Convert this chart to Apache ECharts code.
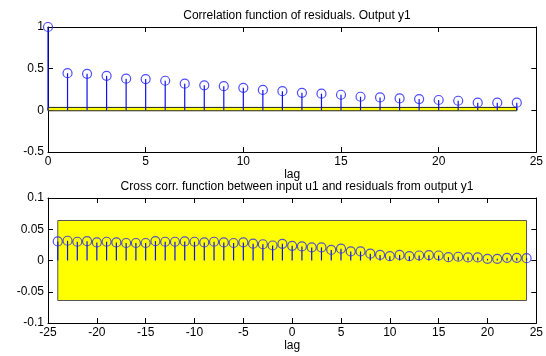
<!DOCTYPE html>
<html>
<head>
<meta charset="utf-8">
<script src="https://cdn.jsdelivr.net/npm/echarts@6/dist/echarts.min.js"></script>
<style>
  html, body { margin: 0; padding: 0; background: #fff; }
  #chart { width: 546px; height: 356px; }
</style>
</head>
<body>
<div id="chart"></div>
<script>
// auto correlation of residuals, lags 0..24
const autoLags = [0, 1, 2, 3, 4, 5, 6, 7, 8, 9, 10, 11, 12, 13, 14, 15, 16, 17, 18, 19, 20, 21, 22, 23, 24]
const autoValues = [1.0, 0.446, 0.438, 0.414, 0.38, 0.375, 0.355, 0.32, 0.30, 0.29, 0.27, 0.245, 0.23,
  0.21, 0.20, 0.187, 0.163, 0.155, 0.143, 0.135, 0.124, 0.115, 0.092, 0.092, 0.092]
const autoBand = [-0.005, 0.035]

// cross correlation u1 / residuals, lags -24..24
const crossLags = [-24, -23, -22, -21, -20, -19, -18, -17, -16, -15, -14, -13, -12, -11, -10, -9, -8, -7,
  -6, -5, -4, -3, -2, -1, 0, 1, 2, 3, 4, 5, 6, 7, 8, 9, 10, 11, 12, 13, 14, 15, 16, 17, 18, 19, 20, 21, 22, 23, 24]
const crossValues = [0.0305, 0.0316, 0.030, 0.031, 0.029, 0.030, 0.029, 0.028, 0.028, 0.028, 0.031, 0.030,
  0.030, 0.0305, 0.030, 0.029, 0.030, 0.029, 0.028, 0.029, 0.027, 0.026, 0.024, 0.0267, 0.0235, 0.0225,
  0.021, 0.021, 0.017, 0.019, 0.0145, 0.0145, 0.011, 0.009, 0.007, 0.009, 0.007, 0.008, 0.0085, 0.008,
  0.0053, 0.006, 0.005, 0.005, 0.0027, 0.0027, 0.0043, 0.0043, 0.0037]
const crossBand = [-0.064, 0.064]

const titles = ['Correlation function of residuals. Output y1',
  'Cross corr. function between input u1 and residuals from output y1']

const font = 'Liberation Sans, Arial, sans-serif'
const chart = echarts.init(document.getElementById('chart'))

const pairs = (xs, ys) => xs.map((x, i) => [x, ys[i]])

// stem line from 0 to value
const stemItem = (params, api) => {
  const x = api.value(0)
  const p0 = api.coord([x, 0])
  const p1 = api.coord([x, api.value(1)])
  return {
    type: 'line',
    shape: { x1: p0[0], y1: p0[1], x2: p1[0], y2: p1[1] },
    style: { stroke: '#1010f0', lineWidth: 1.2 },
  }
}

const axisBase = {
  axisLine: { show: true, onZero: false, lineStyle: { color: '#000', width: 1 } },
  axisTick: { show: true, inside: true, length: 5, lineStyle: { color: '#000' } },
  splitLine: { show: false },
  axisLabel: { color: '#000', fontFamily: font, fontSize: 12 },
}

const xMain = (grid, min, max) => ({
  ...axisBase, type: 'value', gridIndex: grid, min, max, interval: 5, position: 'bottom',
  axisLabel: { ...axisBase.axisLabel, margin: 4 },
  name: 'lag', nameLocation: 'middle', nameGap: 17,
  nameTextStyle: { color: '#000', fontFamily: font, fontSize: 12 },
})
const xTop = (grid, min, max) => ({
  ...axisBase, type: 'value', gridIndex: grid, min, max, interval: 5, position: 'top',
  axisLabel: { show: false },
})
const yMain = (grid, min, max, interval) => ({
  ...axisBase, type: 'value', gridIndex: grid, min, max, interval, position: 'left',
  axisLabel: { ...axisBase.axisLabel, margin: 4 },
})
const yRight = (grid, min, max, interval) => ({
  ...axisBase, type: 'value', gridIndex: grid, min, max, interval, position: 'right',
  axisLabel: { show: false },
})

const band = (x0, x1, lim, border) => ({
  silent: true,
  itemStyle: { color: '#ffff00', borderColor: border, borderWidth: 1 },
  data: [[{ xAxis: x0, yAxis: lim[0] }, { xAxis: x1, yAxis: lim[1] }]],
})

const option = {
  animation: false,
  backgroundColor: '#fff',
  title: [
    { text: titles[0], left: 292, top: 5, textAlign: 'center',
      textStyle: { fontFamily: font, fontSize: 12, fontWeight: 'normal', color: '#000' } },
    { text: titles[1], left: 292, top: 176, textAlign: 'center',
      textStyle: { fontFamily: font, fontSize: 12, fontWeight: 'normal', color: '#000' } },
  ],
  grid: [
    { left: 48, top: 27, width: 489, height: 125 },
    { left: 48, top: 198, width: 489, height: 125 },
  ],
  xAxis: [xMain(0, 0, 25), xTop(0, 0, 25), xMain(1, -25, 25), xTop(1, -25, 25)],
  yAxis: [yMain(0, -0.5, 1, 0.5), yRight(0, -0.5, 1, 0.5), yMain(1, -0.1, 0.1, 0.05), yRight(1, -0.1, 0.1, 0.05)],
  series: [
    {
      type: 'custom', xAxisIndex: 0, yAxisIndex: 0,
      data: pairs(autoLags, autoValues), renderItem: stemItem,
      markArea: band(autoLags[0], autoLags[autoLags.length - 1], autoBand, '#222'),
    },
    {
      type: 'scatter', xAxisIndex: 0, yAxisIndex: 0,
      data: pairs(autoLags, autoValues),
      symbol: 'circle', symbolSize: 9,
      itemStyle: { color: 'rgba(0,0,0,0)', borderColor: '#2020ff', borderWidth: 1.2 },
    },
    {
      type: 'custom', xAxisIndex: 2, yAxisIndex: 2,
      data: pairs(crossLags, crossValues), renderItem: stemItem,
      markArea: band(crossLags[0], crossLags[crossLags.length - 1], crossBand, '#555'),
    },
    {
      type: 'scatter', xAxisIndex: 2, yAxisIndex: 2,
      data: pairs(crossLags, crossValues),
      symbol: 'circle', symbolSize: 9,
      itemStyle: { color: 'rgba(0,0,0,0)', borderColor: '#2a2af0', borderWidth: 1.2 },
    },
  ],
}

chart.setOption(option)
</script>
</body>
</html>
